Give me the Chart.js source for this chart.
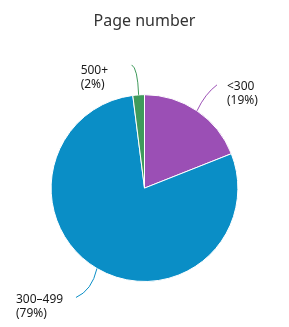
<!DOCTYPE html>
<html><head><meta charset="utf-8">
<script src="https://cdn.jsdelivr.net/npm/chart.js@4/dist/chart.umd.min.js"></script>
<style>html,body{margin:0;padding:0;background:#fff;}#wrap{width:289px;height:327px;position:relative;}</style>
</head><body><div id="wrap"><canvas id="c"></canvas></div>
<script>
const categories = ['<300', '300–499', '500+'];
const percents = [19, 79, 2];
const colors = ['#9b4fb5', '#0a8ec6', '#3f9a5b'];
const chartTitle = 'Page number';
// leader line geometry (pixels, relative to the slice's outer mid-point)
const leaders = [
  {end:[20,-26], ctrl:[8,-17], label:[10,2]},
  {end:[-21,29], ctrl:[-5,22], label:[-60,2]},
  {end:[-7,-30], ctrl:[-1,-27], label:[-51,6]}
];
const leaderPlugin = {
  id:'leaders',
  afterDatasetsDraw(chart){
    const ctx = chart.ctx;
    const meta = chart.getDatasetMeta(0);
    meta.data.forEach((arc, i) => {
      const p = arc.getProps(['x','y','startAngle','endAngle','outerRadius']);
      const mid = (p.startAngle + p.endAngle)/2;
      const sx = p.x + Math.cos(mid)*p.outerRadius;
      const sy = p.y + Math.sin(mid)*p.outerRadius;
      const L = leaders[i];
      const ex = sx + L.end[0], ey = sy + L.end[1];
      ctx.save();
      ctx.strokeStyle = colors[i];
      ctx.lineWidth = 1;
      ctx.beginPath();
      ctx.moveTo(sx, sy);
      ctx.quadraticCurveTo(sx + L.ctrl[0], sy + L.ctrl[1], ex, ey);
      ctx.stroke();
      ctx.fillStyle = '#1a1a1a';
      ctx.font = '12px "Noto Sans", "Open Sans", sans-serif';
      ctx.textAlign = 'left';
      ctx.textBaseline = 'middle';
      const lx = ex + L.label[0], ly = ey + L.label[1];
      ctx.fillText(categories[i], lx, ly);
      ctx.fillText('(' + percents[i] + '%)', lx, ly + 14);
      ctx.restore();
    });
  }
};
new Chart(document.getElementById('c'), {
  type:'pie',
  data:{labels:categories, datasets:[{data:percents, backgroundColor:colors, borderColor:'#ffffff', borderWidth:1}]},
  options:{
    responsive:true, maintainAspectRatio:false, animation:false,
    layout:{padding:{top:0,bottom:45,left:50,right:50}},
    plugins:{
      legend:{display:false}, tooltip:{enabled:false},
      title:{display:true, text:chartTitle, color:'#333333', font:{family:'"Noto Sans", "Open Sans", sans-serif', size:16, weight:'normal'}, padding:{top:12,bottom:63}}
    }
  },
  plugins:[leaderPlugin]
});
</script></body></html>
